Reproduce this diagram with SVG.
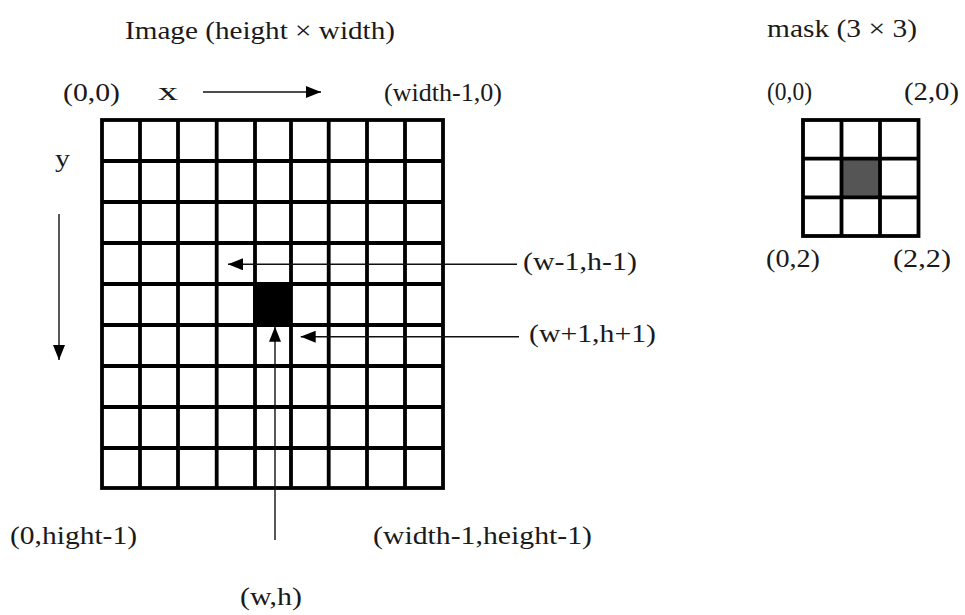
<svg xmlns="http://www.w3.org/2000/svg" width="965" height="615" viewBox="0 0 965 615">
<style>
text{font-family:"Liberation Serif","Times New Roman",serif;font-size:26px;fill:#1a1a1a}
.grid{fill:none;stroke:#000;stroke-width:3.8}
.conn{stroke:#111;stroke-width:1.4;fill:none;marker-end:url(#ah)}
</style>
<defs>
<marker id="ah" markerUnits="userSpaceOnUse" markerWidth="15" markerHeight="12" refX="15" refY="6" orient="auto">
<path d="M0,0 L15,6 L0,12 z" fill="#000"/>
</marker>
</defs>
<rect width="965" height="615" fill="#fff"/>
<g id="image-grid">
<rect x="253" y="284" width="39" height="41" fill="#000"/>
<rect class="grid" x="102" y="120" width="341" height="368"/>
<path class="grid" d="M140,120V488M178,120V488M216.7,120V488M255,120V488M291,120V488M328.7,120V488M367,120V488M405,120V488M102,161H443M102,202H443M102,243H443M102,284H443M102,325H443M102,366H443M102,407H443M102,448H443"/>
</g>
<g id="mask-grid">
<rect x="842" y="159" width="38" height="38.5" fill="#555"/>
<rect class="grid" x="803" y="120" width="115.5" height="116"/>
<path class="grid" d="M841.5,120V236M880,120V236M803,158.7H918.5M803,197.3H918.5"/>
</g>
<g id="connectors">
<line class="conn" x1="203" y1="92" x2="321" y2="92"/>
<line class="conn" x1="59" y1="214" x2="59" y2="360"/>
<line class="conn" x1="517" y1="264.3" x2="228" y2="264.3"/>
<line class="conn" x1="519" y1="336.7" x2="300.7" y2="336.7"/>
<line class="conn" x1="275" y1="540" x2="275" y2="326.7"/>
</g>
<g id="labels">
<text x="125" y="39" textLength="270" lengthAdjust="spacingAndGlyphs">Image (height × width)</text>
<text x="767" y="37" textLength="150" lengthAdjust="spacingAndGlyphs">mask (3 × 3)</text>
<text x="63" y="101" textLength="57" lengthAdjust="spacingAndGlyphs">(0,0)</text>
<text x="158" y="100" textLength="20" lengthAdjust="spacingAndGlyphs">x</text>
<text x="384" y="101" textLength="118" lengthAdjust="spacingAndGlyphs">(width-1,0)</text>
<text x="55" y="167" textLength="15" lengthAdjust="spacingAndGlyphs">y</text>
<text x="767" y="100" textLength="45" lengthAdjust="spacingAndGlyphs">(0,0)</text>
<text x="904" y="100" textLength="55" lengthAdjust="spacingAndGlyphs">(2,0)</text>
<text x="766" y="267" textLength="54" lengthAdjust="spacingAndGlyphs">(0,2)</text>
<text x="893" y="267" textLength="58" lengthAdjust="spacingAndGlyphs">(2,2)</text>
<text x="523" y="270" textLength="114" lengthAdjust="spacingAndGlyphs">(w-1,h-1)</text>
<text x="529" y="342" textLength="127" lengthAdjust="spacingAndGlyphs">(w+1,h+1)</text>
<text x="10" y="544" textLength="127" lengthAdjust="spacingAndGlyphs">(0,hight-1)</text>
<text x="373" y="544" textLength="219" lengthAdjust="spacingAndGlyphs">(width-1,height-1)</text>
<text x="240" y="605" textLength="62" lengthAdjust="spacingAndGlyphs">(w,h)</text>
</g>
</svg>
